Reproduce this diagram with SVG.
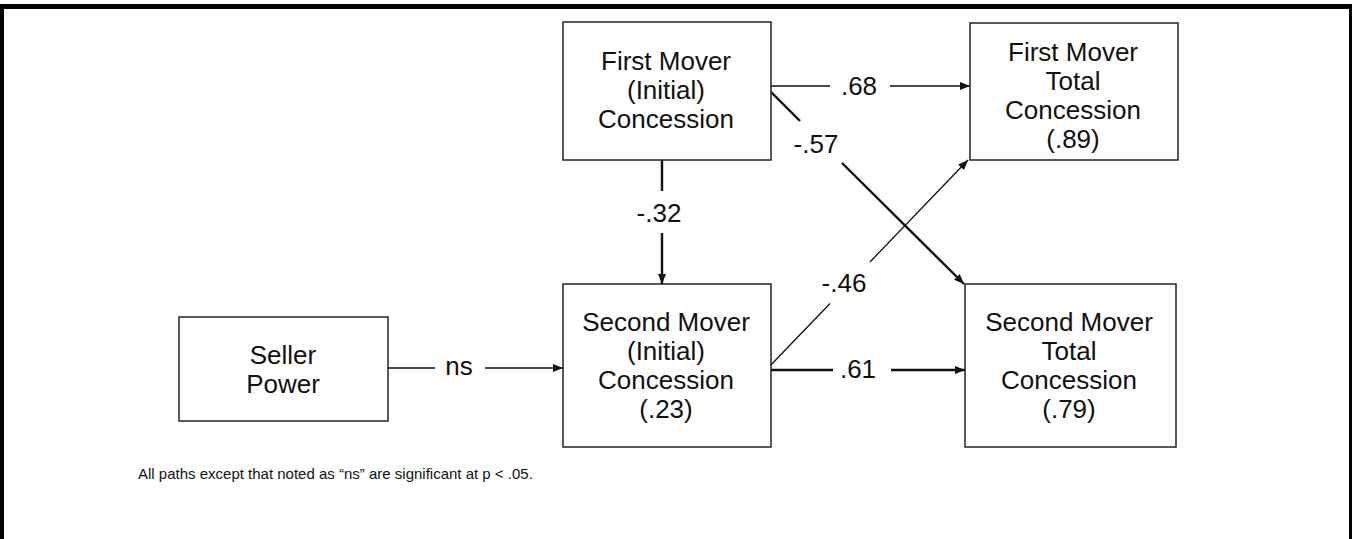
<svg xmlns="http://www.w3.org/2000/svg" width="1352" height="539" viewBox="0 0 1352 539">
<style>
.box{fill:#fff;stroke:#222;stroke-width:1.5}
.t{font-family:"Liberation Sans",Arial,sans-serif;font-size:26px;fill:#111;text-anchor:middle}
.lbl{font-family:"Liberation Sans",Arial,sans-serif;font-size:26px;fill:#111;text-anchor:middle}
.note{font-family:"Liberation Sans",Arial,sans-serif;font-size:15px;fill:#111}
.thin{stroke:#111;stroke-width:1.3;fill:none}
.thick{stroke:#111;stroke-width:2.4;fill:none}
</style>
<defs>
<marker id="ah" viewBox="0 0 10 8" refX="10" refY="4" markerUnits="userSpaceOnUse" markerWidth="10" markerHeight="8" orient="auto">
<path d="M0,0 L10,4 L0,8 Z" fill="#111"/>
</marker>
</defs>
<rect width="1352" height="539" fill="#fff"/>
<g id="frame" fill="#000">
<rect x="0" y="4" width="1352" height="5"/>
<rect x="0" y="4" width="4" height="535"/>
<rect x="1349" y="4" width="3" height="535"/>
</g>
<g id="connectors">
<line class="thin" x1="771" y1="86" x2="830" y2="86"/>
<line class="thin" x1="890" y1="86" x2="970" y2="86" marker-end="url(#ah)"/>
<text class="lbl" x="859" y="95">.68</text>
<line class="thick" x1="771" y1="92" x2="800" y2="121"/>
<line class="thick" x1="842" y1="163" x2="964" y2="284" marker-end="url(#ah)"/>
<text class="lbl" x="816" y="153">-.57</text>
<line class="thick" x1="662" y1="160" x2="662" y2="191"/>
<line class="thick" x1="662" y1="233" x2="662" y2="284" marker-end="url(#ah)"/>
<text class="lbl" x="659" y="222">-.32</text>
<line class="thin" x1="767" y1="369" x2="830" y2="303.5"/>
<line class="thin" x1="870" y1="262" x2="968" y2="160" marker-end="url(#ah)"/>
<text class="lbl" x="844" y="292">-.46</text>
<line class="thin" x1="388" y1="368" x2="435" y2="368"/>
<line class="thin" x1="485" y1="368" x2="563" y2="368" marker-end="url(#ah)"/>
<text class="lbl" x="459" y="375">ns</text>
<line class="thick" x1="767" y1="370" x2="833" y2="370"/>
<line class="thick" x1="891" y1="370" x2="965" y2="370" marker-end="url(#ah)"/>
<text class="lbl" x="858" y="378">.61</text>
</g>
<g id="fm-initial">
<rect class="box" x="563" y="22" width="208" height="138"/>
<text class="t" x="666" y="70">First Mover</text>
<text class="t" x="666" y="99">(Initial)</text>
<text class="t" x="666" y="128">Concession</text>
</g>
<g id="fm-total">
<rect class="box" x="970" y="23" width="208" height="137"/>
<text class="t" x="1073" y="61">First Mover</text>
<text class="t" x="1073" y="90">Total</text>
<text class="t" x="1073" y="119">Concession</text>
<text class="t" x="1073" y="148">(.89)</text>
</g>
<g id="seller-power">
<rect class="box" x="179" y="317" width="209" height="104"/>
<text class="t" x="283" y="364">Seller</text>
<text class="t" x="283" y="393">Power</text>
</g>
<g id="sm-initial">
<rect class="box" x="563" y="284" width="208" height="163"/>
<text class="t" x="666" y="331">Second Mover</text>
<text class="t" x="666" y="360">(Initial)</text>
<text class="t" x="666" y="389">Concession</text>
<text class="t" x="666" y="418">(.23)</text>
</g>
<g id="sm-total">
<rect class="box" x="965" y="284" width="211" height="163"/>
<text class="t" x="1069" y="331">Second Mover</text>
<text class="t" x="1069" y="360">Total</text>
<text class="t" x="1069" y="389">Concession</text>
<text class="t" x="1069" y="418">(.79)</text>
</g>
<g id="note">
<text class="note" x="138" y="479">All paths except that noted as “ns” are significant at p &lt; .05.</text>
</g>
</svg>
